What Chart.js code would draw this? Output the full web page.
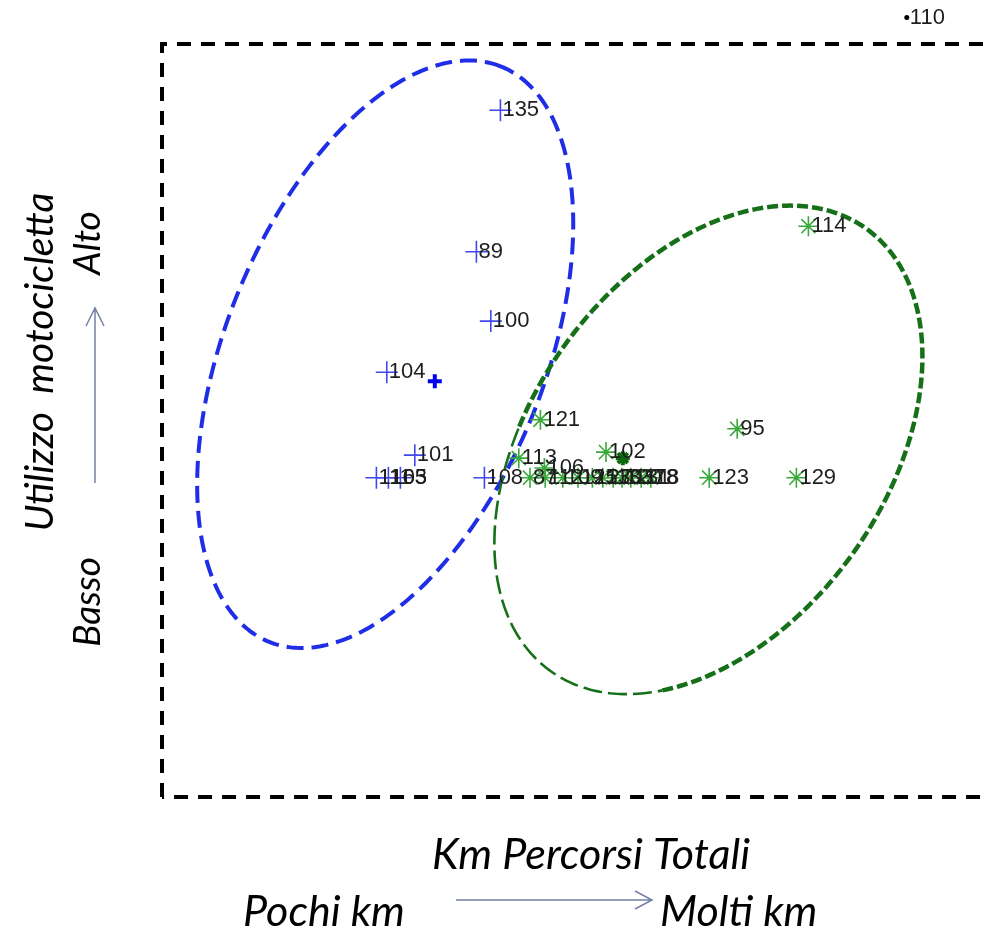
<!DOCTYPE html>
<html>
<head>
<meta charset="utf-8">
<script src="https://cdn.jsdelivr.net/npm/chart.js@4/dist/chart.umd.min.js"></script>
<style>
    body { margin: 0; background: #fff; }
    #contenitore { width: 988px; height: 930px; }
</style>
</head>
<body>
<div id="contenitore"><canvas id="cluster"></canvas></div>
<script>
        // gruppo blu (+)
        var bluX = [4.23, 3.93, 4.11, 2.81, 3.16, 2.68, 2.83, 2.98, 4.03]
        var bluY = [9.12, 7.24, 6.32, 5.64, 4.54, 4.24, 4.24, 4.24, 4.24]
        var bluEtichette = ['135', '89', '100', '104', '101', '111', '105', '63', '108']
        var centroBlu = [3.41, 5.52]

        // gruppo verde (*)
        var verdeX = [8.08, 4.73, 7.19, 5.55, 4.46, 4.78, 6.84, 7.93, 4.60, 4.79, 5.01, 5.20, 5.38, 5.51, 5.64, 5.75, 5.86, 5.99, 6.11]
        var verdeY = [7.58, 5.01, 4.89, 4.58, 4.50, 4.37, 4.24, 4.24, 4.24, 4.24, 4.24, 4.24, 4.24, 4.24, 4.24, 4.24, 4.24, 4.24, 4.24]
        var verdeEtichette = ['114', '121', '95', '102', '113', '106', '123', '129', '87', '112', '109', '125', '127', '130', '133', '120', '131', '118', '78']
        var centroVerde = [5.76, 4.50]

        // punto isolato
        var isolatoX = [9.31]
        var isolatoY = [10.35]
        var isolatoEtichette = ['110']

        // ellissi: centro e due semiassi (unita dei dati)
        var ellisseBluCentro = [2.79, 5.88]
        var ellisseBluAsse1 = [1.45, 3.82]
        var ellisseBluAsse2 = [-1.85, 0.79]
        var ellisseVerdeCentro = [6.83, 4.61]
        var ellisseVerdeAsse1 = [1.97, 2.94]
        var ellisseVerdeAsse2 = [-1.81, 1.37]

        // riquadro tratteggiato
        var riquadroX = [0, 0, 11, 11, 0]
        var riquadroY = [0, 10, 10, 0, 0]

        var limitiX = [-2.025, 10.325]
        var limitiY = [-1.766, 10.584]

        function punti(xs, ys) {
            return xs.map((x, i) => ({ x: x, y: ys[i] }))
        }

        // tratti: [gradi inizio, gradi fine, spessore, tratteggio]
        var pluginEllissi = {
            id: 'ellissi',
            beforeDatasetsDraw(chart) {
                var ctx = chart.ctx
                var sx = chart.scales.x
                var sy = chart.scales.y
                var ellissi = [
                    [ellisseBluCentro, ellisseBluAsse1, ellisseBluAsse2, '#1f2ee6', [[0, 360, 4, [17, 8]]]],
                    [ellisseVerdeCentro, ellisseVerdeAsse1, ellisseVerdeAsse2, '#16701a', [[-145, 110, 4.5, [11, 4]], [110, 215, 2.6, [19, 6]]]]
                ]
                ellissi.forEach(e => {
                    e[4].forEach(tr => {
                        ctx.save()
                        ctx.strokeStyle = e[3]
                        ctx.lineWidth = tr[2]
                        ctx.setLineDash(tr[3])
                        ctx.beginPath()
                        for (var k = tr[0]; k <= tr[1]; k++) {
                            var t = k * Math.PI / 180
                            var px = sx.getPixelForValue(e[0][0] + e[1][0] * Math.cos(t) + e[2][0] * Math.sin(t))
                            var py = sy.getPixelForValue(e[0][1] + e[1][1] * Math.cos(t) + e[2][1] * Math.sin(t))
                            if (k == tr[0]) ctx.moveTo(px, py)
                            else ctx.lineTo(px, py)
                        }
                        ctx.stroke()
                        ctx.restore()
                    })
                })
            }
        }

        var pluginEtichette = {
            id: 'etichette',
            afterDatasetsDraw(chart) {
                var ctx = chart.ctx
                ctx.save()
                ctx.font = '22px "Liberation Sans", Arial, sans-serif'
                ctx.fillStyle = '#1e1e1e'
                ctx.textBaseline = 'middle'
                chart.data.datasets.forEach((ds, i) => {
                    if (!ds.etichette) return
                    chart.getDatasetMeta(i).data.forEach((el, j) => {
                        ctx.fillText(ds.etichette[j], el.x + ds.scarto, el.y)
                    })
                })
                ctx.restore()
            }
        }

        // testi degli assi e frecce
        var pluginAssi = {
            id: 'assi',
            afterDraw(chart) {
                var ctx = chart.ctx
                ctx.save()
                ctx.fillStyle = '#000'
                ctx.font = 'italic 43px Lato, "Open Sans", sans-serif'
                ctx.textAlign = 'center'
                ctx.fillText('Km Percorsi Totali', 591, 869)
                ctx.textAlign = 'left'
                ctx.fillText('Pochi km', 243, 926)
                ctx.fillText('Molti km', 660, 926)

                var verticali = [['Utilizzo  motocicletta', 53, 362, 39], ['Alto', 100, 243, 37], ['Basso', 100, 602, 37]]
                verticali.forEach(v => {
                    ctx.save()
                    ctx.font = 'italic ' + v[3] + 'px Lato, "Open Sans", sans-serif'
                    ctx.translate(v[1], v[2])
                    ctx.rotate(-Math.PI / 2)
                    ctx.textAlign = 'center'
                    ctx.fillText(v[0], 0, 0)
                    ctx.restore()
                })

                ctx.strokeStyle = '#7480a6'
                ctx.lineWidth = 1.5
                ctx.beginPath()
                ctx.moveTo(456, 900); ctx.lineTo(652, 900)
                ctx.moveTo(635, 891); ctx.lineTo(652, 900); ctx.lineTo(635, 909)
                ctx.moveTo(95, 483); ctx.lineTo(95, 308)
                ctx.moveTo(86, 326); ctx.lineTo(95, 308); ctx.lineTo(104, 326)
                ctx.stroke()
                ctx.restore()
            }
        }

        var cluster = new Chart(document.getElementById('cluster').getContext('2d'), {
            type: 'scatter',
            data: {
                datasets: [{
                    label: 'centro blu',
                    data: punti([centroBlu[0]], [centroBlu[1]]),
                    pointStyle: 'cross',
                    radius: 7,
                    borderWidth: 4,
                    borderColor: '#0000f0',
                    order: 1
                }, {
                    label: 'centro verde',
                    data: punti([centroVerde[0]], [centroVerde[1]]),
                    pointStyle: 'star',
                    radius: 7,
                    borderWidth: 4,
                    borderColor: '#0d6b0d',
                    order: 1
                }, {
                    label: 'blu',
                    data: punti(bluX, bluY),
                    etichette: bluEtichette,
                    scarto: 2,
                    pointStyle: 'cross',
                    radius: 11,
                    borderWidth: 1.6,
                    borderColor: '#4048ee',
                    order: 2
                }, {
                    label: 'verde',
                    data: punti(verdeX, verdeY),
                    etichette: verdeEtichette,
                    scarto: 3,
                    pointStyle: 'star',
                    radius: 10,
                    borderWidth: 1.6,
                    borderColor: '#3aa83a',
                    order: 2
                }, {
                    label: '110',
                    data: punti(isolatoX, isolatoY),
                    etichette: isolatoEtichette,
                    scarto: 3,
                    pointStyle: 'circle',
                    radius: 2.5,
                    borderWidth: 0,
                    backgroundColor: '#000',
                    order: 2
                }, {
                    label: 'riquadro',
                    data: punti(riquadroX, riquadroY),
                    showLine: true,
                    radius: 0,
                    borderColor: '#000',
                    borderWidth: 4,
                    borderDash: [14, 10],
                    order: 3
                }]
            },
            options: {
                responsive: true,
                maintainAspectRatio: false,
                animation: false,
                layout: { padding: 0, autoPadding: false },
                plugins: {
                    legend: { display: false },
                    tooltip: { enabled: false }
                },
                scales: {
                    x: { display: false, min: limitiX[0], max: limitiX[1] },
                    y: { display: false, min: limitiY[0], max: limitiY[1] }
                }
            },
            plugins: [pluginEllissi, pluginEtichette, pluginAssi]
        });
</script>
</body>
</html>
